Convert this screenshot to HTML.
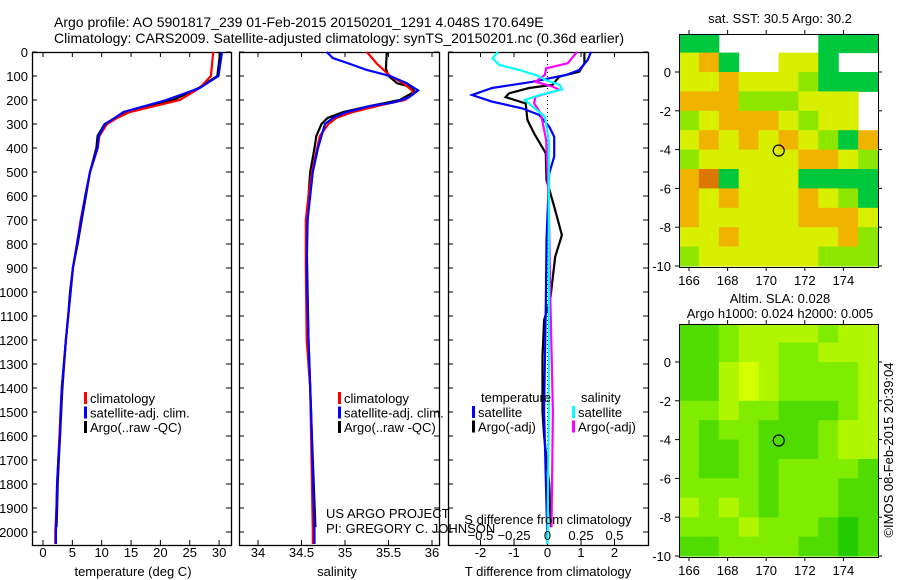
<!DOCTYPE html>
<html><head><meta charset="utf-8"><style>
body{margin:0;background:#fff;}
svg{display:block;font-family:"Liberation Sans",sans-serif;}
text{font-size:13px;fill:#000;}
</style></head><body>
<svg id="s" width="900" height="580" viewBox="0 0 900 580">
<rect width="900" height="580" fill="#fff"/>
<text x="54" y="27" style="font-size:14px">Argo profile: AO 5901817_239 01-Feb-2015 20150201_1291 4.048S 170.649E</text>
<text x="54" y="43" style="font-size:14px" textLength="570">Climatology: CARS2009. Satellite-adjusted climatology: synTS_20150201.nc (0.36d earlier)</text>
<g id="g"></g>
</svg>
<script>
// ---- temperature panel data
const tDepth=[0,100,150,200,250,275,300,350,400,500,600,700,800,900,1000,1100,1200,1400,1500,1600,1700,1800,1900,2000,2050];
const tClim=[29.0,28.6,26.7,23.3,14.8,12.6,10.9,9.6,9.3,8.0,7.2,6.4,5.8,5.1,4.7,4.3,3.9,3.2,3.0,2.8,2.6,2.4,2.3,2.1,2.1];
const tSat=[30.5,29.9,26.7,21.0,13.7,12.2,10.6,9.5,9.3,8.0,7.2,6.5,5.8,5.1,4.7,4.3,3.9,3.2,3.0,2.9,2.6,2.4,2.3,2.2,2.2];
const tArgo=[30.2,29.7,26.5,22.2,14.2,12.3,10.5,9.3,9.1,8.0,7.3,6.6,5.9,5.1,4.6,4.3,3.9,3.3,3.1,2.9,2.7,2.5,2.4,2.3];
const tArgoDepth=[0,100,150,200,250,275,300,350,400,500,600,700,800,900,1000,1100,1200,1400,1500,1600,1700,1800,1900,1980];
// ---- salinity panel data
const sClimDepth=[0,50,100,130,160,175,200,225,250,275,300,350,400,500,600,700,900,1200,1400,1600,2000,2050];
const sClim=[35.25,35.37,35.52,35.67,35.77,35.78,35.69,35.37,35.09,34.90,34.81,34.71,34.68,34.62,34.58,34.55,34.55,34.56,34.60,34.61,34.63,34.63];
const sSatDepth=[0,25,50,75,100,130,160,190,210,225,250,275,300,400,500,600,700,900,1200,1500,2000,2050];
const sSat=[34.79,34.86,35.06,35.25,35.52,35.71,35.84,35.73,35.56,35.29,35.02,34.86,34.77,34.69,34.63,34.60,34.57,34.56,34.58,34.61,34.65,34.65];
const sArgoDepth=[0,70,100,130,145,165,200,225,250,275,300,350,400,500,600,800,1200,1600,1980];
const sArgo=[35.48,35.47,35.50,35.60,35.75,35.80,35.63,35.29,34.98,34.80,34.73,34.67,34.65,34.60,34.58,34.56,34.58,34.62,34.66];
// ---- difference panel data
const dTArgoDepth=[0,47,82,103,137,150,172,188,214,283,339,422,533,644,763,853,1033,1117,1270,1500,1600,1800,1980];
const dTArgo=[1.1,1.1,0.95,0.35,0.15,-0.55,-1.15,-1.25,-0.65,-0.6,-0.4,-0.05,-0.03,0.2,0.43,0.23,0.08,-0.1,-0.15,-0.15,-0.1,0.05,0.1];
const dTSatDepth=[0,33,75,96,124,150,179,207,235,262,311,353,436,506,783,1061,1500,2050];
const dTSat=[1.3,1.2,0.95,0.55,-0.45,-1.65,-2.25,-1.65,-0.75,-0.25,0.05,0.2,0.2,0.05,-0.03,-0.05,-0.1,0.0];
const dSSatDepth=[0,26,54,75,96,117,137,156,179,200,228,269,367,506,1000,1500,2050];
const dSSat=[-0.37,-0.41,-0.36,-0.21,-0.09,-0.01,0.09,0.11,-0.06,-0.17,-0.11,-0.02,0.01,0.01,0.01,0.01,0.0];
const dSArgoDepth=[0,47,68,96,124,144,158,186,214,256,367,644,1000,1500,1980];
const dSArgo=[0.22,0.15,-0.01,-0.02,-0.09,0.04,0.09,-0.09,-0.10,-0.05,-0.01,0.01,0.02,0.04,0.03];
// ---- map data (rows lat 2..-10, cols lon 165.5..175.8); -1 = missing
const sstGrid=[
[0,0,-1,-1,-1,-1,-1,0,0,0],
[2,3,0,-1,-1,2,2,0,-1,-1],
[2,2,3,2,2,2,1,0,0,0],
[3,3,3,1,1,1,2,2,2,-1],
[1,2,3,3,3,2,1,2,2,-1],
[2,3,2,3,2,3,2,1,0,3],
[1,2,2,2,2,2,3,3,2,1],
[3,4,0,2,2,2,0,0,0,0],
[3,2,3,2,2,2,3,2,1,0],
[3,2,2,2,2,2,3,3,3,2],
[2,2,3,2,2,2,2,2,3,1],
[1,2,2,2,2,2,2,1,1,1]];
const slaGrid=[
[1,1,2,3,3,3,3,2,3,3],
[1,1,2,3,3,2,2,3,3,3],
[1,1,3,4,3,2,2,2,2,3],
[1,1,3,4,3,2,2,2,2,3],
[2,2,3,2,2,1,1,1,2,3],
[2,1,2,2,1,1,1,2,3,3],
[2,1,1,2,1,1,1,2,3,3],
[2,1,1,2,1,2,2,2,2,1],
[2,2,2,2,1,2,2,2,1,1],
[3,2,3,2,1,2,2,2,1,1],
[2,2,2,3,2,2,2,1,0,1],
[1,1,2,2,2,2,1,1,0,1]];
const argoLon=170.649, argoLat=-4.048;
const depthTicks=[0,100,200,300,400,500,600,700,800,900,1000,1100,1200,1300,1400,1500,1600,1700,1800,1900,2000];
const tTicks=[0,5,10,15,20,25,30];
const sTicks=[34,34.5,35,35.5,36];
const dTTicks=[-2,-1,0,1,2];
const dSTicks=[-0.5,-0.25,0,0.25,0.5];
const latTicks=[0,-2,-4,-6,-8,-10];
const lonTicks=[166,168,170,172,174];

const NS="http://www.w3.org/2000/svg";
const G=document.getElementById('g');
function el(tag,attrs,parent){const e=document.createElementNS(NS,tag);for(const k in attrs)e.setAttribute(k,attrs[k]);(parent||G).appendChild(e);return e;}
function txt(x,y,s,anchor,parent){const t=el('text',{x:x,y:y,'text-anchor':anchor||'start'},parent);t.textContent=s;return t;}
const Y=d=>52+d*0.24;
const TOP=52,BOT=545;
const xT=v=>43+v*5.87, xS=v=>258+(v-34)*87, xDT=v=>547.5+v*33.5, xDS=v=>547.5+v*134;

function panel(name,x0,x1){
  const g=el('g',{});
  
  
  el('rect',{x:x0+0.5,y:TOP+0.5,width:x1-x0,height:BOT-TOP,fill:'none',stroke:'#000','stroke-width':1.3},g);
  return g;
}
function line(g,name,xs,ds,fx,color,w){
  const p=el('polyline',{points:xs.map((v,i)=>fx(v).toFixed(1)+','+Y(ds[i]).toFixed(1)).join(' '),fill:'none',stroke:color,'stroke-width':w||2.2,'stroke-linejoin':'miter'},g);
  
  
}
function xticks(g,ticks,fx,labels,ly){
  ticks.forEach(v=>{const x=fx(v);el('line',{x1:x,y1:BOT,x2:x,y2:BOT-5,stroke:'#000'},g);el('line',{x1:x,y1:TOP,x2:x,y2:TOP+5,stroke:'#000'},g);
    if(labels){const t=txt(x,ly,String(v),'middle',g);}});
}
function yticks(g,x0,x1,labels){
  depthTicks.forEach(d=>{const y=Y(d);el('line',{x1:x0,y1:y,x2:x0+5,y2:y,stroke:'#000'},g);el('line',{x1:x1,y1:y,x2:x1-5,y2:y,stroke:'#000'},g);
    if(labels){const t=txt(28,y+5,String(d),'end',g);}});
}
function legend(g,x,y,items){
  items.forEach((it,i)=>{el('rect',{x:x,y:y+i*14.5-11,width:3,height:12,fill:it[1]},g);
    const t=txt(x+6,y+i*14.5,it[0],'start',g);});
}
// Panel 1
let p1=panel('temperature-panel',32,231);
yticks(p1,32,231,true);xticks(p1,tTicks,xT,true,557);
line(p1,'temp-argo',tArgo,tArgoDepth,xT,'#000');
line(p1,'temp-climatology',tClim,tDepth,xT,'#f00');
line(p1,'temp-satellite',tSat,tDepth,xT,'#00f');
legend(p1,84,403,[['climatology','#f00'],['satellite-adj. clim.','#00f'],['Argo(..raw -QC)','#000']]);
let a=txt(133,576,'temperature (deg C)','middle',p1);
// Panel 2
let p2=panel('salinity-panel',239,439);
yticks(p2,239,439,false);xticks(p2,sTicks,xS,true,557);
line(p2,'sal-argo',sArgo,sArgoDepth,xS,'#000');
line(p2,'sal-climatology',sClim,sClimDepth,xS,'#f00');
line(p2,'sal-satellite',sSat,sSatDepth,xS,'#00f');
legend(p2,338,403,[['climatology','#f00'],['satellite-adj. clim.','#00f'],['Argo(..raw -QC)','#000']]);
a=txt(337,576,'salinity','middle',p2);
a=txt(326,518,'US ARGO PROJECT','start',p2);
a=txt(326,533,'PI: GREGORY C. JOHNSON','start',p2);
// Panel 3
let p3=panel('difference-panel',448,648);
yticks(p3,448,648,false);xticks(p3,dTTicks,xDT,true,557);
el('line',{x1:xDT(0),y1:TOP,x2:xDT(0),y2:BOT,stroke:'#000','stroke-dasharray':'1,3'},p3);
line(p3,'dT-argo',dTArgo,dTArgoDepth,xDT,'#000');
line(p3,'dT-satellite',dTSat,dTSatDepth,xDT,'#00f');
line(p3,'dS-argo',dSArgo,dSArgoDepth,xDS,'#f0f');
line(p3,'dS-satellite',dSSat,dSSatDepth,xDS,'#0ff');
a=txt(481,402,'temperature','start',p3);
a=txt(581,402,'salinity','start',p3);
legend(p3,472,417,[['satellite','#00f'],['Argo(-adj)','#000']]);
legend(p3,572,417,[['satellite','#0ff'],['Argo(-adj)','#f0f']]);
a=txt(548,524,'S difference from climatology','middle',p3);
dSTicks.forEach(v=>{const t=txt(xDS(v),540,String(v).replace('-','\u2212'),'middle',p3);});
a=txt(548,576,'T difference from climatology','middle',p3);
// Maps
function map(name,top,bot,lat0y,grid,colors,title){
  const g=el('g',{});
  
  
  const L=679,R=878;
  const mx=lon=>689+(lon-166)*19.3;
  const my=lat=>lat0y-lat*((bot-1-lat0y)/10);
  const cw=(R-L)/10;
  grid.forEach((row,ri)=>row.forEach((v,ci)=>{
    if(v<0)return;
    const y0=Math.max(top,my(2-ri)),y1=my(1-ri);
    const c=el('rect',{x:L+ci*cw,y:y0,width:cw+0.5,height:Math.min(bot,y1)-y0+0.5,fill:colors[v]},g);
    
    
  }));
  el('rect',{x:L+0.5,y:top+0.5,width:R-L,height:bot-top,fill:'none',stroke:'#000'},g);
  latTicks.forEach(v=>{const y=my(v);el('line',{x1:L,y1:y,x2:L-4,y2:y,stroke:'#000'},g);el('line',{x1:R,y1:y,x2:R+4,y2:y,stroke:'#000'},g);
    const t=txt(L-8,y+5,String(v),'end',g);});
  lonTicks.forEach(v=>{const x=mx(v);el('line',{x1:x,y1:bot,x2:x,y2:bot+4,stroke:'#000'},g);el('line',{x1:x,y1:top,x2:x,y2:top-4,stroke:'#000'},g);
    const t=txt(x,bot+18,String(v),'middle',g);});
  const c=el('circle',{cx:mx(argoLon),cy:my(argoLat),r:5.5,fill:'none',stroke:'#000','stroke-width':1.2},g);
  
  
  title.forEach((s,i)=>{const t=txt(780,s[1],s[0],'middle',g);});
}
map('sst-map',34,267,72,sstGrid,['#00c83c','#8ce600','#d8f000','#f0b400','#dc7800'],[['sat. SST: 30.5 Argo: 30.2',23]]);
map('sla-map',324,557,362,slaGrid,['#22cc00','#50dc00','#80ec00','#b0f600','#d4ff00'],[['Altim. SLA: 0.028',303],['Argo h1000: 0.024 h2000: 0.005',318]]);
a=txt(0,0,'\u00a9IMOS 08-Feb-2015 20:39:04','middle');
a.setAttribute('transform','translate(893,450) rotate(-90)');


</script>
</body></html>
